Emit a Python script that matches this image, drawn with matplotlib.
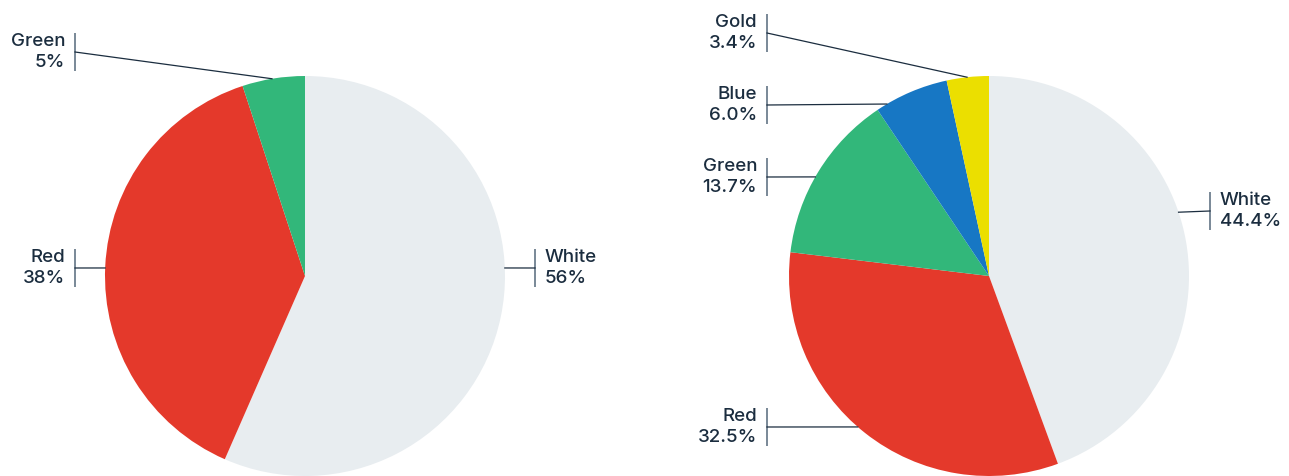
import numpy as np
import matplotlib.pyplot as plt

# ---- data ----
left_names = ["White", "Red", "Green"]
left_values = [56, 38, 5]
left_pct = ["56%", "38%", "5%"]

right_names = ["White", "Red", "Green", "Blue", "Gold"]
right_values = [44.4, 32.5, 13.7, 6.0, 3.4]
right_pct = ["44.4%", "32.5%", "13.7%", "6.0%", "3.4%"]

colors = {
    "White": "#e8edf0",
    "Red": "#e4392b",
    "Green": "#32b77a",
    "Blue": "#1777c4",
    "Gold": "#ebdf00",
}

# ---- layout (pixels, y from top) ----
W, H = 1289, 476
R = 200
TEXT = "#1b2d3f"
BAR = "#6e7f8f"

# side, bar x, label y, leader target angle (deg)
left_layout = [("right", 535, 268, 2.3), ("left", 75, 268, 177.7), ("left", 75, 52, 99.5)]
right_layout = [("right", 1210, 211, 18.6), ("left", 767, 427, 229.0),
                ("left", 767, 177, 150.3), ("left", 767, 105, 120.7),
                ("left", 767, 33, 96.3)]

plt.rcParams['font.family'] = ['Inter', 'DejaVu Sans']

fig = plt.figure(figsize=(W / 100, H / 100), dpi=100)
ax = fig.add_axes([0, 0, 1, 1])


def draw_pie(names, values, pcts, layout, cx, cy):
    ax.pie(values, colors=[colors[n] for n in names], startangle=90,
           counterclock=False, center=(cx, H - cy), radius=R,
           wedgeprops=dict(linewidth=0))
    for name, pct, (side, bx, ly, ang) in zip(names, pcts, layout):
        y = H - ly
        # vertical marker next to the label
        ax.plot([bx, bx], [y - 19, y + 19], color=BAR, lw=1.3, solid_capstyle="butt")
        # leader to the slice edge
        tx = cx + R * np.cos(np.radians(ang))
        ty = H - cy + R * np.sin(np.radians(ang))
        ax.plot([bx, tx], [y, ty], color=TEXT, lw=0.9)
        if side == "left":
            ax.text(bx - 10, y, f"{name}\n{pct}", ha="right", va="center",
                    multialignment="right", fontsize=13.5, fontweight="medium",
                    color=TEXT, linespacing=1.35)
        else:
            ax.text(bx + 10, y, f"{name}\n{pct}", ha="left", va="center",
                    multialignment="left", fontsize=13.5, fontweight="medium",
                    color=TEXT, linespacing=1.35)


draw_pie(left_names, left_values, left_pct, left_layout, 305, 276)
draw_pie(right_names, right_values, right_pct, right_layout, 989, 276)

ax.set_xlim(0, W)
ax.set_ylim(0, H)
ax.set_aspect("equal")
ax.axis("off")

fig.savefig("out.png", dpi=100)
